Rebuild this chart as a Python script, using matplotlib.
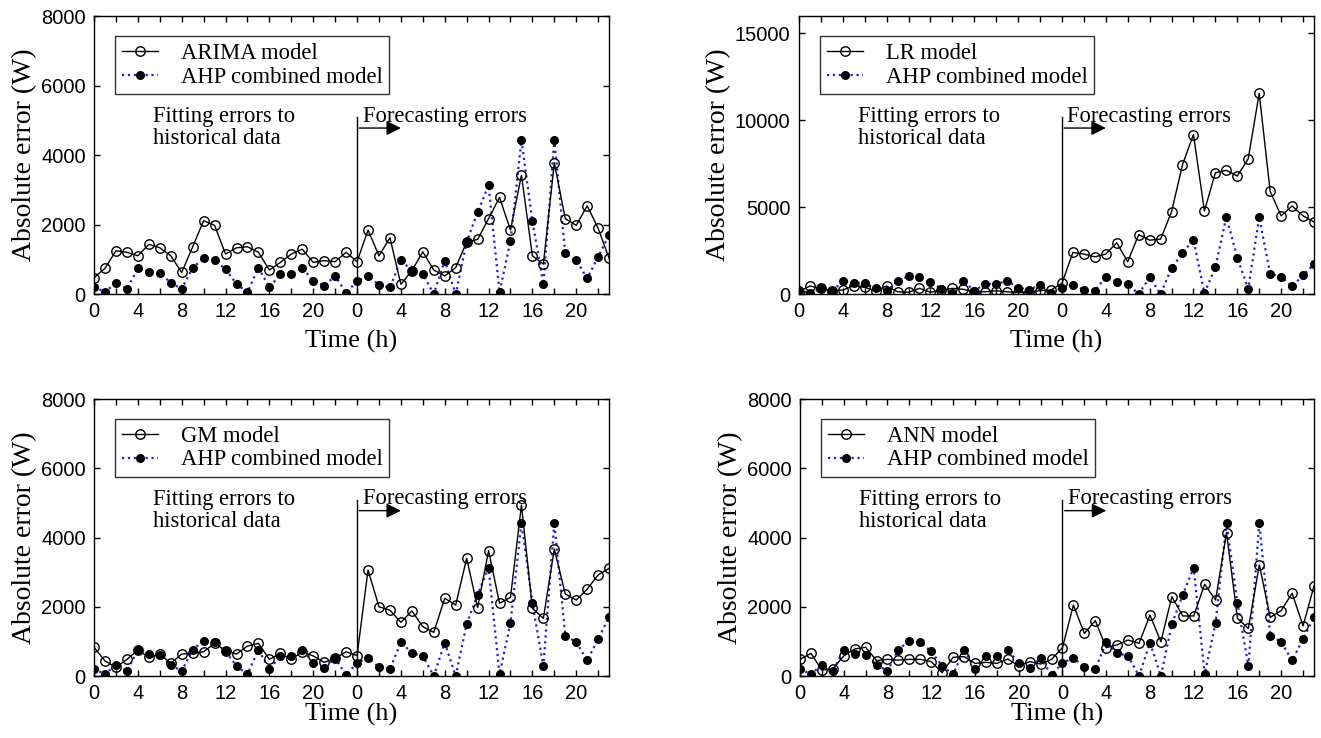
import numpy as np
import matplotlib
matplotlib.use("Agg")
import matplotlib.pyplot as plt

plt.rcParams['font.family'] = ['Liberation Serif', 'DejaVu Serif']

# datos: 24 h de ajuste + 24 h de pronostico
hours = np.arange(48)
ahp = [210, 50, 325, 145, 740, 640, 610, 325, 145, 760, 1025, 980, 710, 290, 50, 760, 190, 575, 575, 760, 375, 240, 520, 30,
       375, 520, 260, 190, 980, 670, 575, 0, 960, 0, 1500, 2350, 3130, 50, 1530, 4430, 2100, 290, 4430, 1170, 980, 450, 1070, 1700]
arima = [470, 740, 1245, 1200, 1100, 1430, 1330, 1100, 620, 1360, 2110, 1975, 1150, 1330, 1360, 1200, 690, 910, 1150, 1290, 910, 960, 930, 1200,
         930, 1840, 1100, 1620, 280, 670, 1215, 690, 520, 760, 1500, 1570, 2170, 2780, 1840, 3420, 1100, 860, 3775, 2170, 1975, 2540, 1890, 1025]
lr = [130, 460, 320, 200, 230, 480, 380, 190, 460, 130, 100, 325, 100, 230, 325, 270, 130, 130, 190, 130, 80, 130, 190, 230,
      620, 2390, 2300, 2140, 2300, 2950, 1855, 3420, 3100, 3160, 4725, 7440, 9180, 4780, 6980, 7120, 6790, 7790, 11550, 5910, 4500, 5070, 4500, 4150]
gm = [830, 435, 250, 480, 750, 540, 635, 365, 635, 655, 700, 945, 730, 635, 865, 945, 480, 655, 480, 700, 580, 395, 510, 700,
      590, 3060, 2000, 1900, 1550, 1880, 1425, 1260, 2245, 2050, 3400, 1975, 3620, 2100, 2270, 4940, 1955, 1665, 3670, 2370, 2195, 2510, 2920, 3110]
ann = [480, 655, 170, 210, 580, 780, 830, 445, 480, 460, 480, 480, 415, 95, 540, 560, 365, 395, 365, 490, 290, 415, 345, 480,
       820, 2050, 1230, 1600, 820, 900, 1040, 945, 1760, 990, 2290, 1735, 1735, 2650, 2195, 4140, 1665, 1375, 3210, 1695, 1890, 2390, 1445, 2600]

names = ["ARIMA model", "LR model", "GM model", "ANN model"]
series = [arima, lr, gm, ann]
ymaxs = [8000, 16000, 8000, 8000]
ysteps = [2000, 5000, 2000, 2000]

fig = plt.figure(figsize=(13.21, 7.38), dpi=100)
pos = [[0.0712, 0.6016, 0.3899, 0.3767],
       [0.6048, 0.6016, 0.3899, 0.3767],
       [0.0712, 0.0840, 0.3899, 0.3753],
       [0.6056, 0.0840, 0.3891, 0.3753]]

for k in range(4):
    ax = fig.add_axes(pos[k])
    ymax = ymaxs[k]
    ax.plot(hours, ahp, ':', color='#2222cc', lw=1.6, marker='o', ms=5.5,
            mfc='black', mec='black', label="AHP combined model", zorder=3)
    ax.plot(hours, series[k], '-', color='black', lw=1.0, marker='o', ms=6.8,
            mfc='none', mec='black', mew=1.0, label=names[k], zorder=4)
    h, l = ax.get_legend_handles_labels()
    leg = ax.legend(h[::-1], l[::-1], loc='upper left', bbox_to_anchor=(0.041, 0.928),
                    borderaxespad=0, fontsize=16.3, frameon=True, fancybox=False,
                    handlelength=1.6, handletextpad=1.0, borderpad=0.3, labelspacing=0.12)
    leg.get_frame().set_edgecolor('black')
    leg.get_frame().set_linewidth(1.0)

    # linea divisoria y textos
    ax.plot([24, 24], [0, 0.637 * ymax], color='black', lw=1.0)
    ax.annotate("", xy=(28.0, 0.597 * ymax), xytext=(24.2, 0.597 * ymax),
                arrowprops=dict(arrowstyle='-|>', color='black', lw=1.0,
                                mutation_scale=22, shrinkA=0, shrinkB=0))
    ax.text(24.5, 0.620 * ymax, "Forecasting errors", fontsize=16.3, va='baseline', ha='left')
    ax.text(5.4, 0.675 * ymax, "Fitting errors to\nhistorical data", fontsize=16.3,
            va='top', ha='left', linespacing=1.05)

    ax.set_xlim(0, 47)
    ax.set_ylim(0, ymax)
    ax.set_xticks(np.arange(0, 47, 2))
    ax.set_xticklabels([str(t % 24) if t % 4 == 0 else "" for t in range(0, 47, 2)])
    ax.set_yticks(np.arange(0, ymax + 1, ysteps[k]))
    ax.tick_params(direction='in', top=True, right=True, length=4.5, width=1.0,
                   labelsize=14.5, pad=6)
    for lab in ax.get_xticklabels() + ax.get_yticklabels():
        lab.set_fontfamily('Liberation Sans')
    for s in ax.spines.values():
        s.set_linewidth(1.0)
    ax.set_ylabel("Absolute error (W)", fontsize=20, labelpad=3)
    if k < 2:
        ax.set_xlabel("Time (h)", fontsize=19, labelpad=6)
    else:
        ax.set_xlabel("Time (h)", fontsize=19, labelpad=0)

fig.savefig("out.png", dpi=100)
